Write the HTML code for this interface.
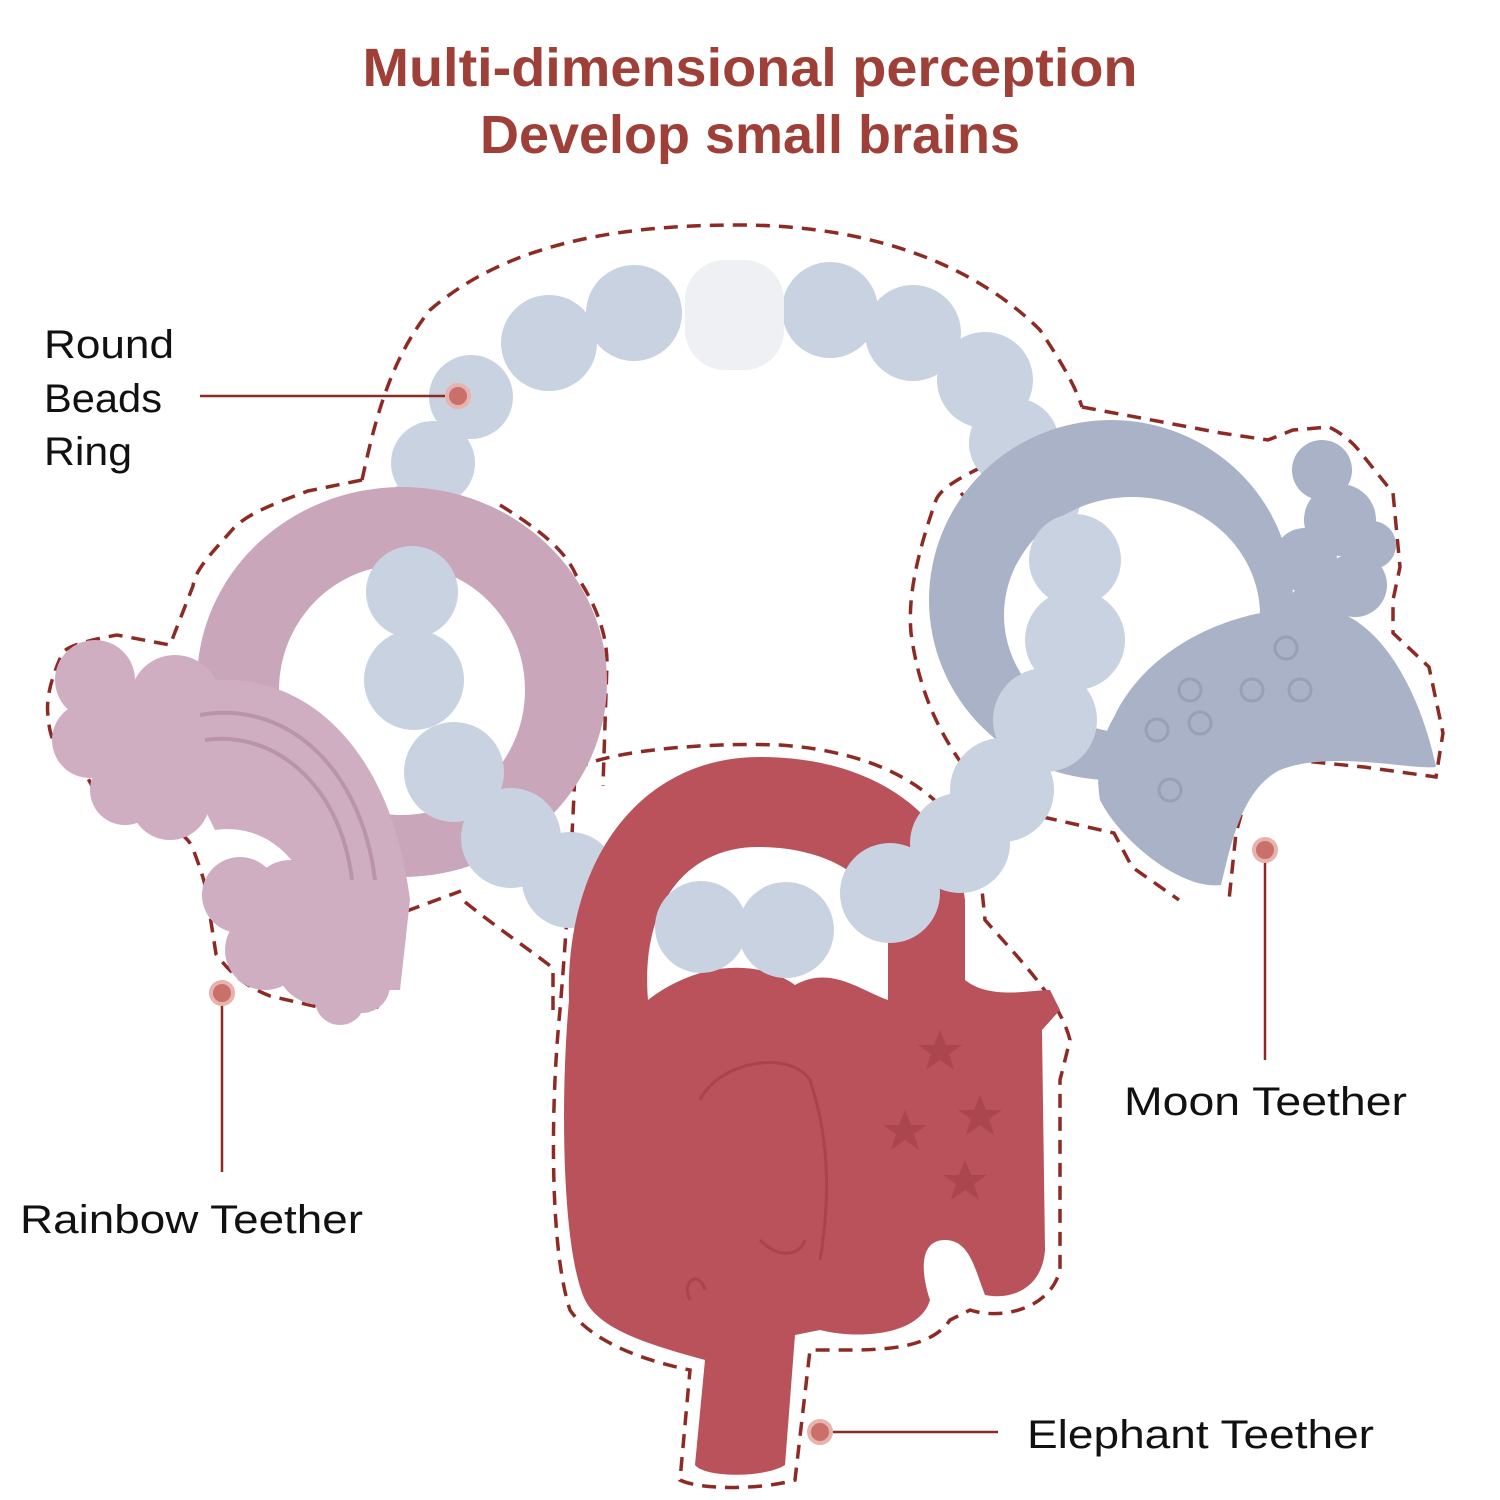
<!DOCTYPE html>
<html><head><meta charset="utf-8"><style>
html,body{margin:0;padding:0;background:#fff;}
svg{display:block;}
text{font-family:"Liberation Sans",sans-serif;}
</style></head><body>
<svg width="1500" height="1500" viewBox="0 0 1500 1500" xmlns="http://www.w3.org/2000/svg">
<rect width="1500" height="1500" fill="#fff"/>
<text x="750" y="86" text-anchor="middle" font-size="54" font-weight="bold" fill="#9e3f38" textLength="775" lengthAdjust="spacingAndGlyphs">Multi-dimensional perception</text>
<text x="750" y="153" text-anchor="middle" font-size="54" font-weight="bold" fill="#9e3f38" textLength="540" lengthAdjust="spacingAndGlyphs">Develop small brains</text>

<!-- dashed outlines -->
<g fill="none" stroke="#8e2a24" stroke-width="3.5" stroke-dasharray="14 9">
  <path d="M362,480 C375,420 390,360 430,310 C500,250 600,225 738,225 C880,225 980,270 1040,330 C1060,360 1075,385 1082,407"/>
  <path d="M362,480 L308,491 C270,505 245,515 232,530 C210,555 195,570 193,586 L170,645 L117,635 C90,640 70,645 63,652 C50,680 46,700 48,716 C50,740 55,745 63,751 L86,775 C95,790 98,800 101,807 L155,821 C180,830 190,840 193,849 C205,880 208,895 209,909 L216,954 C235,980 255,990 270,996 L331,1010 L377,1007 C390,990 392,975 392,961 L385,937 L404,912 L461,891"/>
  <path d="M465,902 C500,930 530,950 553,968 L553,1017"/>
  <path d="M500,505 C540,530 565,550 576,575 C600,610 607,640 607,663 L603,786"/>
  <path d="M1082,407 L1221,433 L1268,440 L1293,430 L1329,427 C1345,435 1355,445 1361,453 L1393,493 L1400,567 L1393,600 L1393,633 L1429,667 L1443,733 L1436,777 L1364,767 L1293,760 C1270,765 1255,775 1250,783 L1236,833 L1229,900"/>
  <path d="M982,467 C955,480 940,490 936,500 C915,560 908,600 911,633 C920,700 945,740 964,767"/>
  <path d="M1043,817 L1114,833 L1132,867 L1179,900"/>
  <path d="M961,493 C985,520 1000,540 1010,560"/>
  <path d="M575,770 C600,752 700,742 780,745 C880,752 940,790 965,840 L980,870 L985,920 C1020,960 1060,1000 1070,1040 L1060,1080 L1060,1270 C1050,1310 1000,1320 970,1310 L950,1320 C930,1350 880,1350 840,1350 L810,1350 L795,1480 C760,1490 700,1490 680,1480 L690,1370 C640,1360 590,1340 570,1310 C550,1250 550,1110 560,1010 C565,950 572,850 575,770"/>
</g>

<!-- top beads -->
<g fill="#c9d2e1">
  <circle cx="634" cy="313" r="48"/><circle cx="549" cy="343" r="48"/><circle cx="471" cy="397" r="42"/><circle cx="433" cy="463" r="42"/><circle cx="418" cy="520" r="40"/>
  <circle cx="830" cy="310" r="48"/><circle cx="913" cy="333" r="48"/><circle cx="985" cy="380" r="48"/><circle cx="1014" cy="443" r="45"/><circle cx="1040" cy="500" r="40"/>
</g>
<rect x="685" y="260" width="99" height="110" rx="40" fill="#eef0f4"/>

<!-- pink ring + rainbow -->
<path fill="#c9a6ba" fill-rule="evenodd" d="M197,682 A205,195 0 1,0 607,682 A205,195 0 1,0 197,682 Z M279,690 A123,125 0 1,1 525,690 A123,125 0 1,1 279,690 Z"/>
<g fill="#d0aec2">
  <path d="M150,700 C250,645 385,700 410,900 L400,990 L330,990 C330,900 290,820 215,830 Z"/>
  <circle cx="95" cy="680" r="40"/><circle cx="90" cy="740" r="38"/><circle cx="125" cy="790" r="35"/><circle cx="170" cy="800" r="40"/><circle cx="175" cy="700" r="45"/><circle cx="210" cy="760" r="40"/><circle cx="140" cy="730" r="45"/>
  <circle cx="240" cy="895" r="38"/><circle cx="290" cy="900" r="40"/><circle cx="265" cy="950" r="40"/><circle cx="320" cy="960" r="45"/><circle cx="362" cy="985" r="28"/><circle cx="340" cy="1000" r="25"/>
</g>
<g fill="none" stroke="#b994aa" stroke-width="4">
  <path d="M200,715 C280,700 360,760 375,880"/>
  <path d="M205,740 C270,730 340,780 352,880"/>
</g>

<!-- moon ring + crescent -->
<path fill="#a9b2c6" fill-rule="evenodd" d="M929,600 A182,180 0 1,0 1293,600 A182,180 0 1,0 929,600 Z M1004,615 A128,118 0 1,1 1260,615 A128,118 0 1,1 1004,615 Z"/>
<g fill="#a9b2c6">
  <path d="M1114,717 C1150,640 1250,600 1330,610 C1380,620 1420,690 1436,767 C1410,770 1330,750 1280,770 C1240,790 1230,850 1221,885 C1180,890 1120,840 1100,800 C1095,770 1100,740 1114,717 Z"/>
  <circle cx="1322" cy="470" r="30"/><circle cx="1340" cy="520" r="36"/><circle cx="1305" cy="560" r="32"/><circle cx="1355" cy="585" r="32"/><circle cx="1315" cy="610" r="28"/><circle cx="1372" cy="545" r="24"/>
</g>
<g fill="none" stroke="#97a0b5" stroke-width="3">
  <circle cx="1190" cy="690" r="11"/><circle cx="1252" cy="690" r="11"/><circle cx="1300" cy="690" r="11"/><circle cx="1286" cy="648" r="11"/><circle cx="1157" cy="730" r="11"/><circle cx="1200" cy="723" r="11"/><circle cx="1170" cy="790" r="11"/>
</g>

<!-- side beads -->
<g fill="#c9d2e1">
  <circle cx="412" cy="592" r="46"/><circle cx="414" cy="680" r="50"/><circle cx="454" cy="772" r="50"/><circle cx="511" cy="838" r="50"/><circle cx="570" cy="880" r="48"/>
  <circle cx="1075" cy="560" r="46"/><circle cx="1075" cy="640" r="50"/><circle cx="1045" cy="720" r="52"/><circle cx="1002" cy="790" r="52"/><circle cx="960" cy="843" r="50"/>
</g>

<!-- Elephant -->
<path fill="#b9525a" d="M569,1000 C565,860 640,757 760,757 C880,757 955,820 965,900 L965,980 C990,1000 1030,990 1050,990 L1060,1010 L1042,1030 L1045,1250 C1042,1290 1010,1300 985,1295 C975,1270 970,1240 945,1240 C920,1240 920,1270 930,1300 C920,1335 860,1340 820,1330 L795,1335 L785,1465 C765,1478 705,1478 695,1465 L705,1360 C650,1345 600,1330 585,1300 C562,1250 560,1100 569,1000 Z"/>
<path fill="#fff" d="M648,1000 C640,900 690,847 758,847 C830,847 880,880 888,930 L888,1000 C860,990 830,965 795,985 C760,960 700,960 648,1000 Z"/>
<g fill="#c9d2e1">
  <circle cx="701" cy="927" r="46"/><circle cx="786" cy="930" r="48"/><circle cx="890" cy="893" r="50"/><circle cx="960" cy="843" r="50"/>
</g>
<g fill="none" stroke="#a8444c" stroke-width="3">
  <path d="M700,1100 C720,1060 790,1050 810,1080 C830,1140 830,1200 820,1260 M760,1240 C780,1260 800,1255 805,1240"/>
  <path d="M690,1300 C680,1280 700,1270 705,1290"/>
</g>
<g fill="#ab464e">
  <polygon points="940,1030 946,1045 962,1045 949,1054 954,1070 940,1060 926,1070 931,1054 918,1045 934,1045"/>
  <polygon points="905,1110 911,1125 927,1125 914,1134 919,1150 905,1140 891,1150 896,1134 883,1125 899,1125"/>
  <polygon points="980,1095 986,1110 1002,1110 989,1119 994,1135 980,1125 966,1135 971,1119 958,1110 974,1110"/>
  <polygon points="965,1160 971,1175 987,1175 974,1184 979,1200 965,1190 951,1200 956,1184 943,1175 959,1175"/>
</g>

<!-- pointers -->
<g stroke="#8e2a24" stroke-width="2.5">
  <line x1="200" y1="396" x2="445" y2="396"/>
  <line x1="222" y1="1005" x2="222" y2="1172"/>
  <line x1="1265" y1="862" x2="1265" y2="1060"/>
  <line x1="832" y1="1432" x2="998" y2="1432"/>
</g>
<g fill="#c9706a" stroke="#e8b2ad" stroke-width="4">
  <circle cx="458" cy="396" r="11"/>
  <circle cx="222" cy="993" r="11"/>
  <circle cx="1265" cy="850" r="11"/>
  <circle cx="820" cy="1432" r="11"/>
</g>

<g font-size="40" fill="#111">
  <text x="44" y="358" textLength="130" lengthAdjust="spacingAndGlyphs">Round</text>
  <text x="44" y="412" textLength="118" lengthAdjust="spacingAndGlyphs">Beads</text>
  <text x="44" y="465" textLength="88" lengthAdjust="spacingAndGlyphs">Ring</text>
  <text x="20" y="1233" textLength="343" lengthAdjust="spacingAndGlyphs">Rainbow Teether</text>
  <text x="1124" y="1115" textLength="283" lengthAdjust="spacingAndGlyphs">Moon Teether</text>
  <text x="1027" y="1448" textLength="347" lengthAdjust="spacingAndGlyphs">Elephant Teether</text>
</g>
</svg>
</body></html>
